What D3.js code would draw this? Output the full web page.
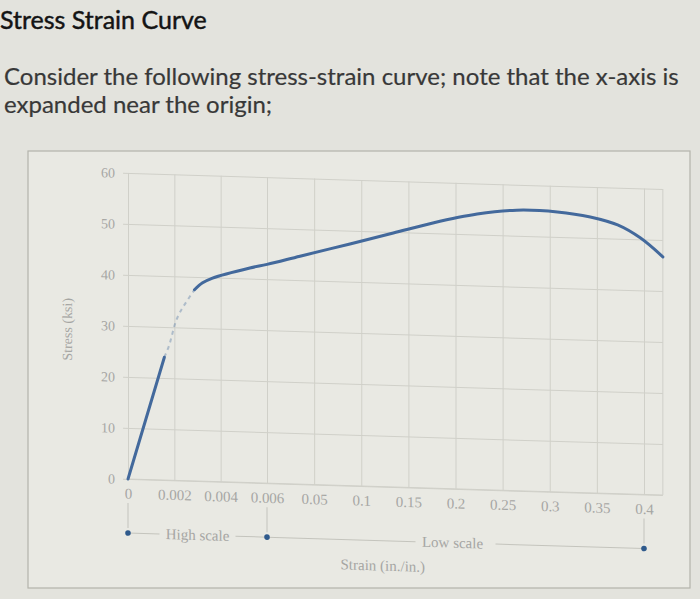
<!DOCTYPE html>
<html><head><meta charset="utf-8">
<script src="https://cdn.jsdelivr.net/npm/d3@7"></script>
<style>
html,body{margin:0;padding:0;background:#e2e2dc;overflow:hidden}
svg{display:block}
</style></head><body>
<svg id="c" width="700" height="599"></svg>
<script>
// ---- data ----
const titleText = "Stress Strain Curve";
const bodyLines = ["Consider the following stress-strain curve; note that the x-axis is", "expanded near the origin;"];
const yAxisTitle = "Stress (ksi)";
const xAxisTitle = "Strain (in./in.)";
const highScaleLabel = "High scale";
const lowScaleLabel = "Low scale";
const yTicks = [0, 10, 20, 30, 40, 50, 60];
const highTicks = [0, 0.002, 0.004, 0.006];
const highTickLabels = ["0", "0.002", "0.004", "0.006"];
const lowTicks = [0.05, 0.1, 0.15, 0.2, 0.25, 0.3, 0.35, 0.4];
const lowTickLabels = ["0.05", "0.1", "0.15", "0.2", "0.25", "0.3", "0.35", "0.4"];
// curve on high (expanded) strain scale
const elasticStrain = [0, 0.00157];
const elasticStress = [0, 24.1];
const transitionStrain = [0.00157, 0.0017, 0.00222, 0.00265, 0.00287];
const transitionStress = [24.1, 25.5, 32.8, 36.0, 37.5];
const yieldStrain = [0.00287, 0.00322, 0.00365, 0.00526, 0.006];
const yieldStress = [37.5, 38.9, 39.9, 42.1, 42.9];
// curve on low (compressed) strain scale
const plasticStrain = [0, 0.035, 0.088, 0.134, 0.176, 0.223, 0.265, 0.308, 0.343, 0.372, 0.396, 0.42];
const plasticStress = [42.9, 44.7, 47.4, 49.8, 52.0, 54.0, 55.0, 54.9, 54.1, 52.7, 50.3, 46.7];

// ---- layout ----
const svg = d3.select("#c");
const skew = 0.03;
const pLeft = 128, pHighEnd = 267, pLowEnd = 644, pBottom = 479, pTop = 173;
const xHigh = d3.scaleLinear().domain([0, 0.006]).range([pLeft, pHighEnd]);
const xLow = d3.scaleLinear().domain([0, 0.4]).range([pHighEnd, pLowEnd]);
const y = d3.scaleLinear().domain([0, 60]).range([pBottom, pTop]);
const pRight = xLow(0.42);

svg.append("rect").attr("x", 0).attr("y", 0).attr("width", 700).attr("height", 599).attr("fill", "#e3e3dd");
// panel
svg.append("rect").attr("x", 28).attr("y", 151).attr("width", 662).attr("height", 437)
  .attr("fill", "#e9e9e3").attr("stroke", "#b3b3ab").attr("stroke-width", 1.2);

// heading text
svg.append("text").attr("x", 0).attr("y", 29).text(titleText)
  .attr("font-family", "Lato").attr("font-size", 25).attr("fill", "#141414")
  .attr("stroke", "#141414").attr("stroke-width", 0.45);
svg.selectAll("text.body").data(bodyLines).join("text").attr("class", "body")
  .attr("x", 4).attr("y", (d, i) => 85 + i * 28).text(d => d)
  .attr("font-family", "Lato").attr("font-size", 24).attr("fill", "#383838")
  .attr("stroke", "#383838").attr("stroke-width", 0.2);

const g = svg.append("g").attr("transform", `matrix(1,${skew},0,1,0,${-skew * pLeft})`);
const tickFont = "Liberation Serif";
const gridColor = "#d0d0c9";
const labelColor = "#a6a6a3";

// y axis + horizontal grid
const yAxis = d3.axisLeft(y).tickValues(yTicks).tickSize(-(pRight - pLeft)).tickFormat(d3.format("d"));
const gy = g.append("g").attr("transform", `translate(${pLeft},0)`).call(yAxis);
gy.select(".domain").remove();
gy.selectAll(".tick line").attr("stroke", gridColor).attr("x1", -5);
gy.selectAll(".tick text").attr("font-family", tickFont).attr("font-size", 14).attr("fill", labelColor).attr("x", -13);

// x axes + vertical grid
function xAxisGroup(scale, ticks, labels) {
  const ax = d3.axisBottom(scale).tickValues(ticks).tickSize(-(pBottom - pTop))
    .tickFormat((d, i) => labels[i]);
  const gx = g.append("g").attr("transform", `translate(0,${pBottom})`).call(ax);
  gx.select(".domain").remove();
  gx.selectAll(".tick line").attr("stroke", gridColor);
  gx.selectAll(".tick text").attr("font-family", tickFont).attr("font-size", 15).attr("fill", labelColor).attr("y", 9);
  return gx;
}
xAxisGroup(xHigh, highTicks, highTickLabels);
xAxisGroup(xLow, lowTicks, lowTickLabels);
g.append("line").attr("x1", pLeft).attr("x2", pRight).attr("y1", pBottom).attr("y2", pBottom).attr("stroke", gridColor);
g.append("line").attr("x1", pRight).attr("x2", pRight).attr("y1", pTop).attr("y2", pBottom).attr("stroke", gridColor);

// axis titles
g.append("text").attr("transform", `translate(72,${y(29)}) rotate(-90)`).attr("text-anchor", "middle")
  .attr("font-family", tickFont).attr("font-size", 14).attr("fill", labelColor).text(yAxisTitle);
g.append("text").attr("x", (xLow(0.1) + xLow(0.15)) / 2 - 2).attr("y", 563).attr("text-anchor", "middle")
  .attr("font-family", tickFont).attr("font-size", 15).attr("fill", labelColor).text(xAxisTitle);

// scale brackets
const brY = 533;
const bracketColor = "#c4c4bd";
const bx0 = xHigh(0), bx1 = xHigh(0.006), bx2 = xLow(0.4);
[bx0, bx1, bx2].forEach(x => {
  g.append("line").attr("x1", x).attr("x2", x).attr("y1", pBottom + 24).attr("y2", brY - 5).attr("stroke", bracketColor);
});
const hsMid = (bx0 + bx1) / 2, lsMid = (bx1 + bx2) / 2;
g.append("line").attr("x1", bx0).attr("x2", hsMid - 38).attr("y1", brY).attr("y2", brY).attr("stroke", bracketColor);
g.append("line").attr("x1", hsMid + 38).attr("x2", bx1).attr("y1", brY).attr("y2", brY).attr("stroke", bracketColor);
g.append("line").attr("x1", bx1).attr("x2", lsMid - 40).attr("y1", brY).attr("y2", brY).attr("stroke", bracketColor);
g.append("line").attr("x1", lsMid + 40).attr("x2", bx2).attr("y1", brY).attr("y2", brY).attr("stroke", bracketColor);
g.append("text").attr("x", hsMid).attr("y", brY + 5).attr("text-anchor", "middle")
  .attr("font-family", tickFont).attr("font-size", 15).attr("fill", labelColor).text(highScaleLabel);
g.append("text").attr("x", lsMid - 3).attr("y", brY + 5).attr("text-anchor", "middle")
  .attr("font-family", tickFont).attr("font-size", 15).attr("fill", labelColor).text(lowScaleLabel);
g.selectAll("circle.dot").data([bx0, bx1, bx2]).join("circle").attr("class", "dot")
  .attr("cx", d => d).attr("cy", brY).attr("r", 2.8).attr("fill", "#2f5a8c");

// curve
const curveColor = "#43699c";
const line = d3.line().x(d => d[0]).y(d => d[1]).curve(d3.curveCatmullRom.alpha(0.5));
const lineY = d3.line().x(d => d[0]).y(d => d[1]).curve(d3.curveMonotoneY);
const elasticPts = elasticStrain.map((s, i) => [xHigh(s), y(elasticStress[i])]);
const transPts = transitionStrain.map((s, i) => [xHigh(s), y(transitionStress[i])]);
const mainPts = yieldStrain.map((s, i) => [xHigh(s), y(yieldStress[i])])
  .concat(plasticStrain.slice(1).map((s, i) => [xLow(s), y(plasticStress[i + 1])]));
g.append("path").attr("d", lineY(elasticPts)).attr("fill", "none").attr("stroke", curveColor)
  .attr("stroke-width", 3).attr("stroke-linecap", "round");
g.append("path").attr("d", lineY(transPts)).attr("fill", "none").attr("stroke", curveColor)
  .attr("stroke-width", 2).attr("stroke-opacity", 0.35).attr("stroke-dasharray", "4 4");
g.append("path").attr("d", line(mainPts)).attr("fill", "none").attr("stroke", curveColor)
  .attr("stroke-width", 3).attr("stroke-linecap", "round");
</script>
</body></html>
